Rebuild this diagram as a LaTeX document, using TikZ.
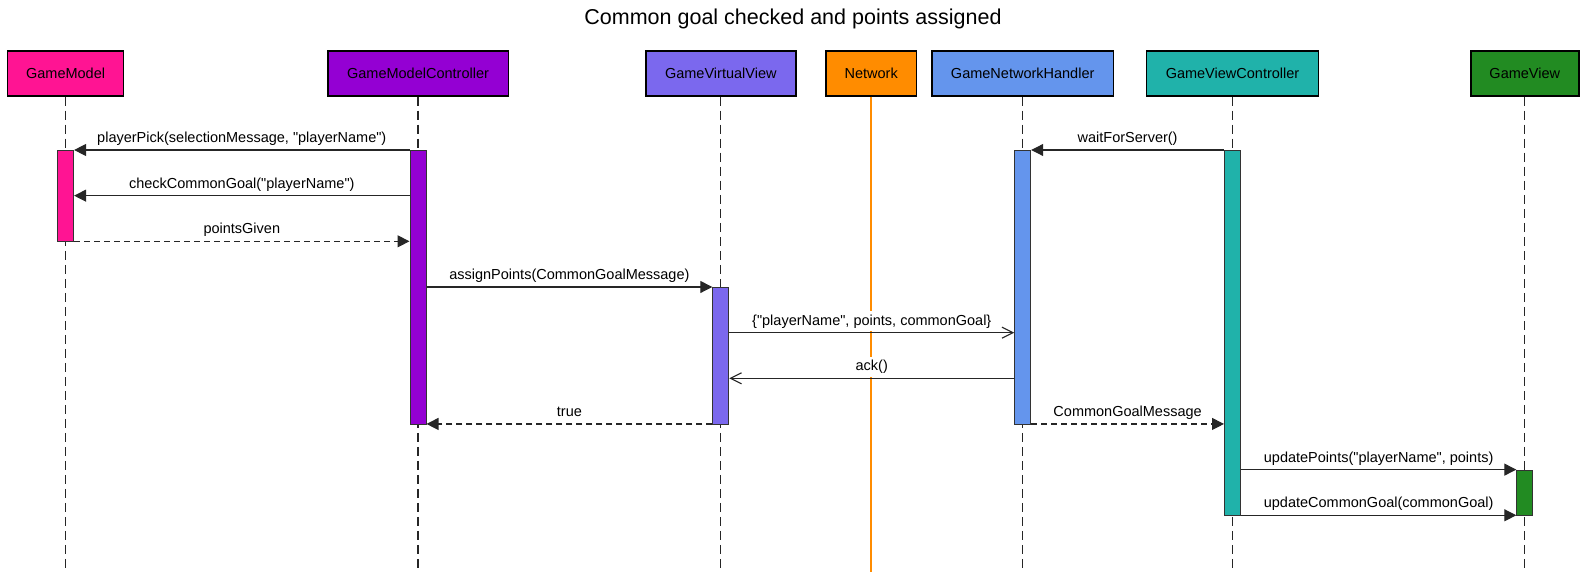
\documentclass[tikz,border=0pt]{standalone}
\usepackage{fontspec}
\setmainfont{Liberation Sans}[Ligatures=TeXOff]
\usetikzlibrary{arrows.meta}

\definecolor{gmpink}{HTML}{FF1493}
\definecolor{gmcviolet}{HTML}{9400D3}
\definecolor{gvvslate}{HTML}{7B68EE}
\definecolor{netorange}{HTML}{FF8C00}
\definecolor{gnhblue}{HTML}{6495ED}
\definecolor{gvcteal}{HTML}{20B2AA}
\definecolor{gvgreen}{HTML}{228B22}

\tikzset{
    participant/.style={draw=black, line width=1.5pt, minimum height=45pt, inner sep=0pt, font=\fontsize{14.5}{17}\selectfont},
    lifeline/.style={black!85, line width=1.2pt, dash pattern=on 9pt off 5pt},
    activation/.style={draw=black!80, line width=1pt, minimum width=16pt, anchor=north, inner sep=0pt},
    msg/.style={black!85, line width=1.1pt, -{Triangle[length=12pt,width=12pt]}},
    reply/.style={msg, dash pattern=on 6pt off 4pt},
    asyncmsg/.style={black!85, line width=1.1pt, -{Straight Barb[length=11pt,width=11pt]}},
    msglabel/.style={fill=white, text=black, anchor=south, yshift=1pt, inner sep=3pt, text height=11pt, text depth=3pt, font=\fontsize{14.5}{17}\selectfont}
}

\begin{document}
\begin{tikzpicture}[x=1pt, y=-1pt]
    % PAGE
    \useasboundingbox (0,0) rectangle (1586,572);
    \coordinate (bottom) at (0,572);

    % TITLE
    \node[font=\fontsize{21.5}{25}\selectfont, anchor=base] (title) at (793,25) {Common goal checked and points assigned};

    % PARTICIPANTS
    \node[participant, fill=gmpink, minimum width=116pt] (gm) at (65.6,73.5) {GameModel};
    \node[participant, fill=gmcviolet, minimum width=180.5pt] (gmc) at (418,73.5) {GameModelController};
    \node[participant, fill=gvvslate, minimum width=150pt] (gvv) at (720.8,73.5) {GameVirtualView};
    \node[participant, fill=netorange, minimum width=90.5pt] (net) at (871.2,73.5) {Network};
    \node[participant, fill=gnhblue, minimum width=181.7pt] (gnh) at (1022.7,73.5) {GameNetworkHandler};
    \node[participant, fill=gvcteal, minimum width=171.7pt] (gvc) at (1232.5,73.5) {GameViewController};
    \node[participant, fill=gvgreen, minimum width=108pt] (gv) at (1524.8,73.5) {GameView};

    % LIFELINES
    \foreach \p in {gm,gmc,gvv,gnh,gvc,gv} {
    \draw[lifeline] (\p.south) -- (\p.south |- bottom);
    }
    \draw[netorange, line width=2pt] (net.south) -- (net.south |- bottom);

    % MESSAGE ROWS
    \foreach \k in {1,...,9} {
    \coordinate (r\k) at (0,{150+45.66*(\k-1)});
    }

    % ACTIVATIONS
    \node[activation, fill=gmpink, minimum height=91.3pt] (aGM) at (gm.south |- r1) {};
    \node[activation, fill=gmcviolet, minimum height=274pt] (aGMC) at (gmc.south |- r1) {};
    \node[activation, fill=gvvslate, minimum height=137pt] (aGVV) at (gvv.south |- r4) {};
    \node[activation, fill=gnhblue, minimum height=274pt] (aGNH) at (gnh.south |- r1) {};
    \node[activation, fill=gvcteal, minimum height=365.3pt] (aGVC) at (gvc.south |- r1) {};
    \node[activation, fill=gvgreen, minimum height=45.7pt] (aGV) at (gv.south |- r8) {};

    % MESSAGES
    \draw[msg] (aGMC.west |- r1) -- node[msglabel] {playerPick(selectionMessage, "playerName")} (aGM.east |- r1);
    \draw[msg] (aGVC.west |- r1) -- node[msglabel] {waitForServer()} (aGNH.east |- r1);
    \draw[msg] (aGMC.west |- r2) -- node[msglabel] {checkCommonGoal("playerName")} (aGM.east |- r2);
    \draw[reply] (aGM.east |- r3) -- node[msglabel] {pointsGiven} (aGMC.west |- r3);
    \draw[msg] (aGMC.east |- r4) -- node[msglabel] {assignPoints(CommonGoalMessage)} (aGVV.west |- r4);
    \draw[asyncmsg] (aGVV.east |- r5) -- node[msglabel] {\{"playerName", points, commonGoal\}} (aGNH.west |- r5);
    \draw[asyncmsg] (aGNH.west |- r6) -- node[msglabel] {ack()} (aGVV.east |- r6);
    \draw[reply] (aGVV.west |- r7) -- node[msglabel] {true} (aGMC.east |- r7);
    \draw[reply] (aGNH.east |- r7) -- node[msglabel] {CommonGoalMessage} (aGVC.west |- r7);
    \draw[msg] (aGVC.east |- r8) -- node[msglabel] {updatePoints("playerName", points)} (aGV.west |- r8);
    \draw[msg] (aGVC.east |- r9) -- node[msglabel] {updateCommonGoal(commonGoal)} (aGV.west |- r9);

\end{tikzpicture}
\end{document}
